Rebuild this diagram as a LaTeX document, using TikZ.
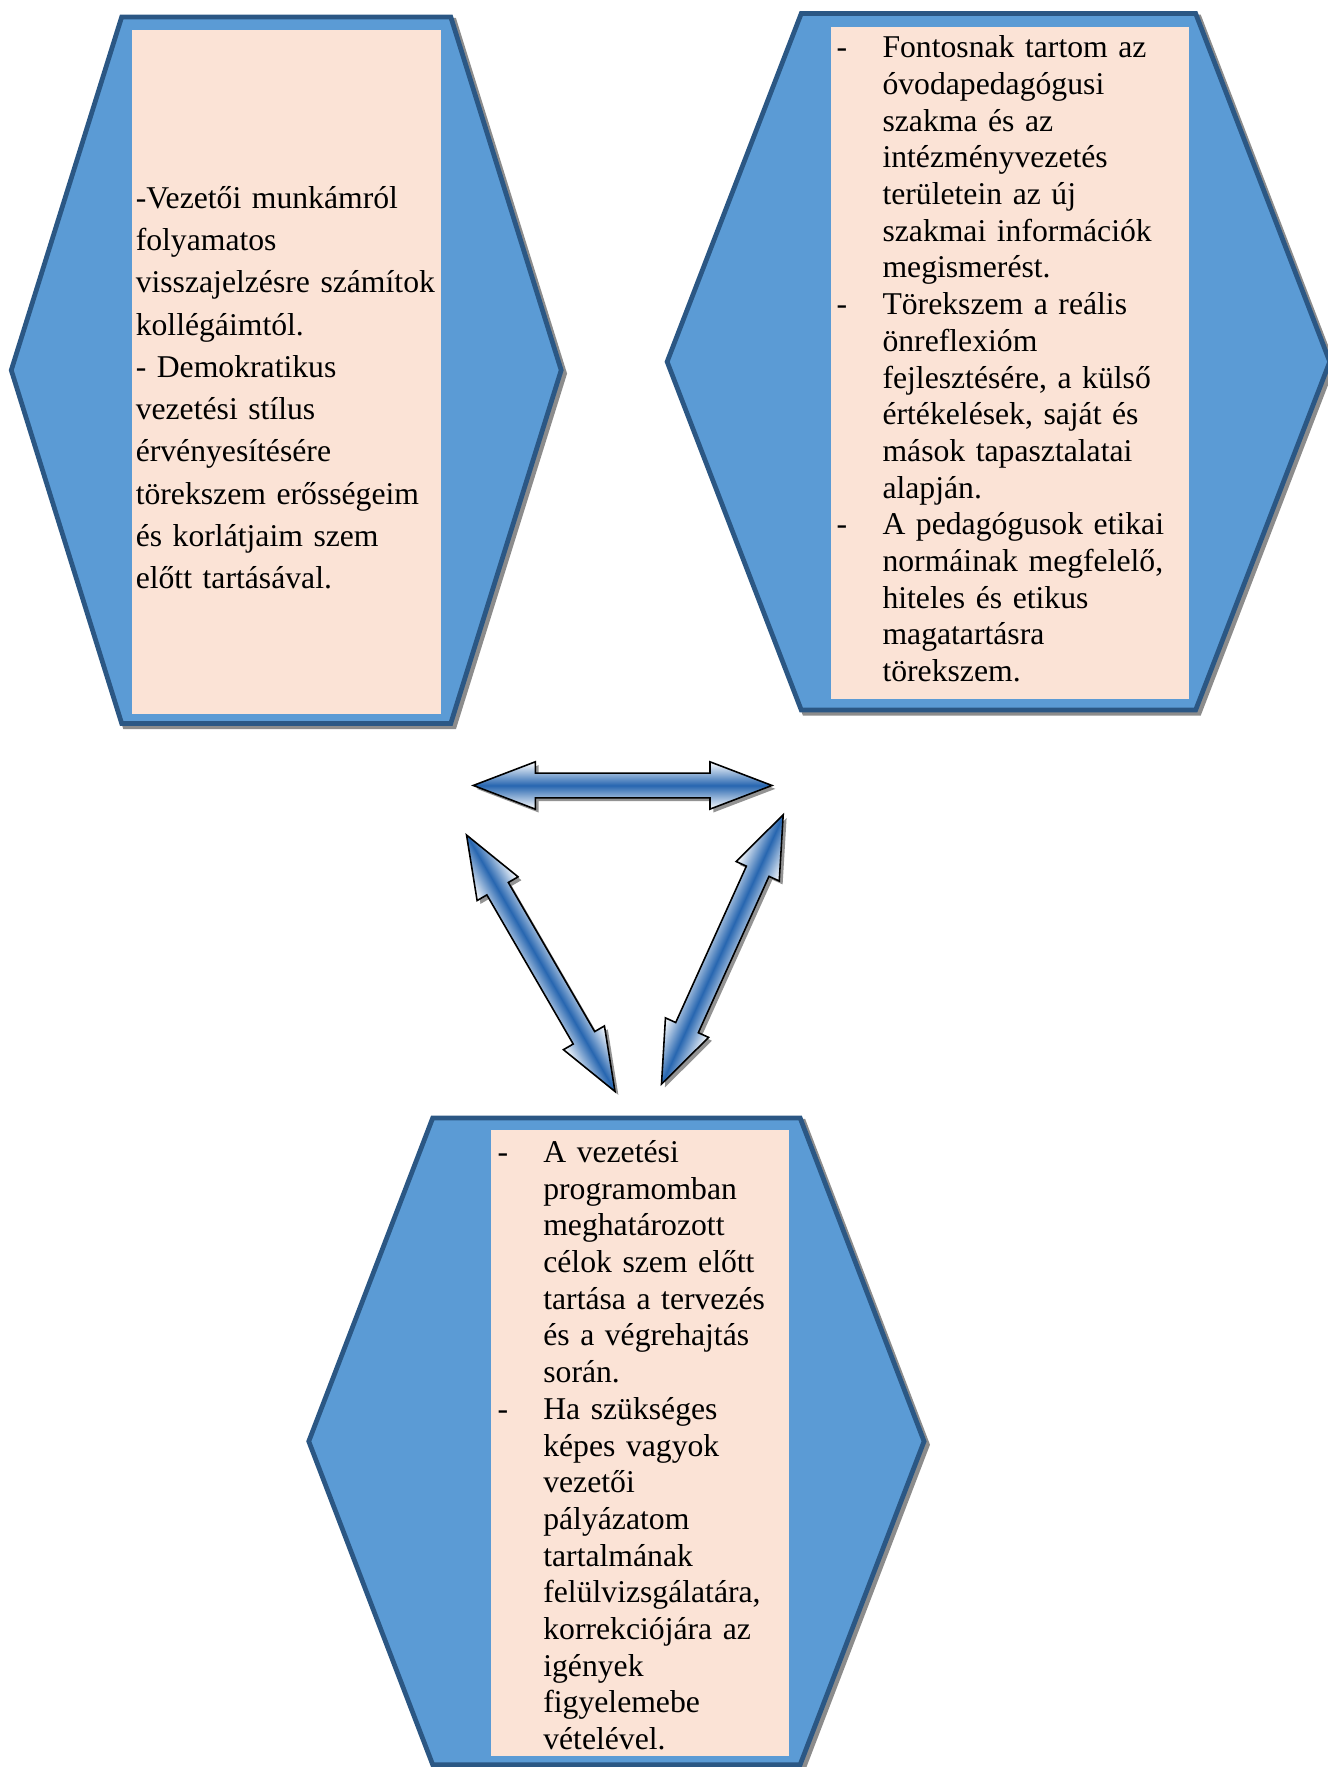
\documentclass[tikz,border=0pt]{standalone}
\usepackage{fontspec}
\setmainfont{Liberation Serif}
\usetikzlibrary{calc}
\definecolor{hexblue}{HTML}{5B9BD5}
\definecolor{hexline}{HTML}{2B5784}
\definecolor{boxpink}{HTML}{FBE3D6}
\definecolor{arrblue}{HTML}{2766B0}
\tikzstyle{hexa} = [fill=hexblue, draw=hexline, line width=1.8pt, line join=miter]
\tikzstyle{hexshadow} = [fill=gray!90, draw=gray!90, line width=1.8pt]
\tikzstyle{block} = [rectangle, fill=boxpink, inner sep=0pt]
\tikzstyle{txt} = [inner sep=0pt, align=left, anchor=west, font=\fontsize{12pt}{13.9pt}\selectfont]
\tikzstyle{arrow} = [draw=black, line width=0.6pt, line join=miter, top color=white, bottom color=white, middle color=arrblue]
\tikzstyle{arrowshadow} = [fill=gray!85]
\newcommand{\dash}{\makebox[0.61cm][l]{-}}
\newcommand{\ind}{\hspace*{0.61cm}}
% hexagon: style, centre, half top width, half full width, half height
\newcommand{\hexagon}[5]{%
  \draw[#1] ($(#2)+(-#3,-#5)$) -- ($(#2)+(#3,-#5)$) -- ($(#2)+(#4,0)$) -- ($(#2)+(#3,#5)$) -- ($(#2)+(-#3,#5)$) -- ($(#2)+(-#4,0)$) -- cycle;}
% fat double arrow between two named tips
\newcommand{\fatarrow}[2]{%
  \path let \p1=($(#2)-(#1)$) in \pgfextra{%
    \pgfmathsetmacro\arrang{atan2(\y1,\x1)}\global\let\arrang\arrang
    \pgfmathsetlengthmacro\arrlen{veclen(\x1,\y1)}\global\let\arrlen\arrlen};
  \begin{scope}[transform canvas={shift={($(#1)+(3,3)$)}, rotate=\arrang}]
    \fill[arrowshadow] (0pt,0pt) -- (0.825cm,0.315cm) -- (0.825cm,0.165cm) -- ({\arrlen-0.825cm},0.165cm) -- ({\arrlen-0.825cm},0.315cm) -- (\arrlen,0pt) -- ({\arrlen-0.825cm},-0.315cm) -- ({\arrlen-0.825cm},-0.165cm) -- (0.825cm,-0.165cm) -- (0.825cm,-0.315cm) -- cycle;
  \end{scope}
  \begin{scope}[transform canvas={shift={(#1)}, rotate=\arrang}]
    \draw[arrow] (0pt,0pt) -- (0.825cm,0.315cm) -- (0.825cm,0.165cm) -- ({\arrlen-0.825cm},0.165cm) -- ({\arrlen-0.825cm},0.315cm) -- (\arrlen,0pt) -- ({\arrlen-0.825cm},-0.315cm) -- ({\arrlen-0.825cm},-0.165cm) -- (0.825cm,-0.165cm) -- (0.825cm,-0.315cm) -- cycle;
  \end{scope}}

\begin{document}
\begin{tikzpicture}[x=0.015cm, y=-0.015cm]
\useasboundingbox (0,0) rectangle (1178,1568);
% Define hexagons
\coordinate (lhex) at (254,328.5);
\coordinate (rhex) at (886,321);
\coordinate (bhex) at (547,1279);
\coordinate (lhexs) at ($(lhex)+(3,3)$);
\coordinate (rhexs) at ($(rhex)+(3,3)$);
\coordinate (bhexs) at ($(bhex)+(3,3)$);
\hexagon{hexshadow}{lhexs}{146}{244}{313.5}
\hexagon{hexa}{lhex}{146}{244}{313.5}
\hexagon{hexshadow}{rhexs}{175}{294}{309}
\hexagon{hexa}{rhex}{175}{294}{309}
\hexagon{hexshadow}{bhexs}{163}{273}{287}
\hexagon{hexa}{bhex}{163}{273}{287}
% Define text boxes
\node (lbox) [block, minimum width=4.11cm, minimum height=9.105cm] at (254,330.5) {};
\node (rbox) [block, minimum width=4.77cm, minimum height=8.94cm] at (896,322) {};
\node (bbox) [block, minimum width=3.96cm, minimum height=8.325cm] at (568,1280.5) {};
\node (ltext) [txt, text width=4.065cm, font=\fontsize{12pt}{16pt}\selectfont] at (120,344) {-Vezetői munkámról\\
folyamatos\\
visszajelzésre számítok\\
kollégáimtól.\\
- Demokratikus\\
vezetési stílus\\
érvényesítésére\\
törekszem erősségeim\\
és korlátjaim szem\\
előtt tartásával.};
\node (rtext) [txt, text width=4.695cm] at (742,318.5) {\dash Fontosnak tartom az\\
\ind óvodapedagógusi\\
\ind szakma és az\\
\ind intézményvezetés\\
\ind területein az új\\
\ind szakmai információk\\
\ind megismerést.\\
\dash Törekszem a reális\\
\ind önreflexióm\\
\ind fejlesztésére, a külső\\
\ind értékelések, saját és\\
\ind mások tapasztalatai\\
\ind alapján.\\
\dash A pedagógusok etikai\\
\ind normáinak megfelelő,\\
\ind hiteles és etikus\\
\ind magatartásra\\
\ind törekszem.};
\node (btext) [txt, text width=3.885cm] at (441,1282.5) {\dash A vezetési\\
\ind programomban\\
\ind meghatározott\\
\ind célok szem előtt\\
\ind tartása a tervezés\\
\ind és a végrehajtás\\
\ind során.\\
\dash Ha szükséges\\
\ind képes vagyok\\
\ind vezetői\\
\ind pályázatom\\
\ind tartalmának\\
\ind felülvizsgálatára,\\
\ind korrekciójára az\\
\ind igények\\
\ind figyelemebe\\
\ind vételével.};
% Connect hexagons with double arrows
\coordinate (hl) at (420,697);
\coordinate (hr) at (685,697);
\coordinate (dl1) at (414,741);
\coordinate (dl2) at (546,969);
\coordinate (dr1) at (587,962);
\coordinate (dr2) at (695,723);
\fatarrow{hl}{hr}
\fatarrow{dl1}{dl2}
\fatarrow{dr1}{dr2}
\end{tikzpicture}
\end{document}
